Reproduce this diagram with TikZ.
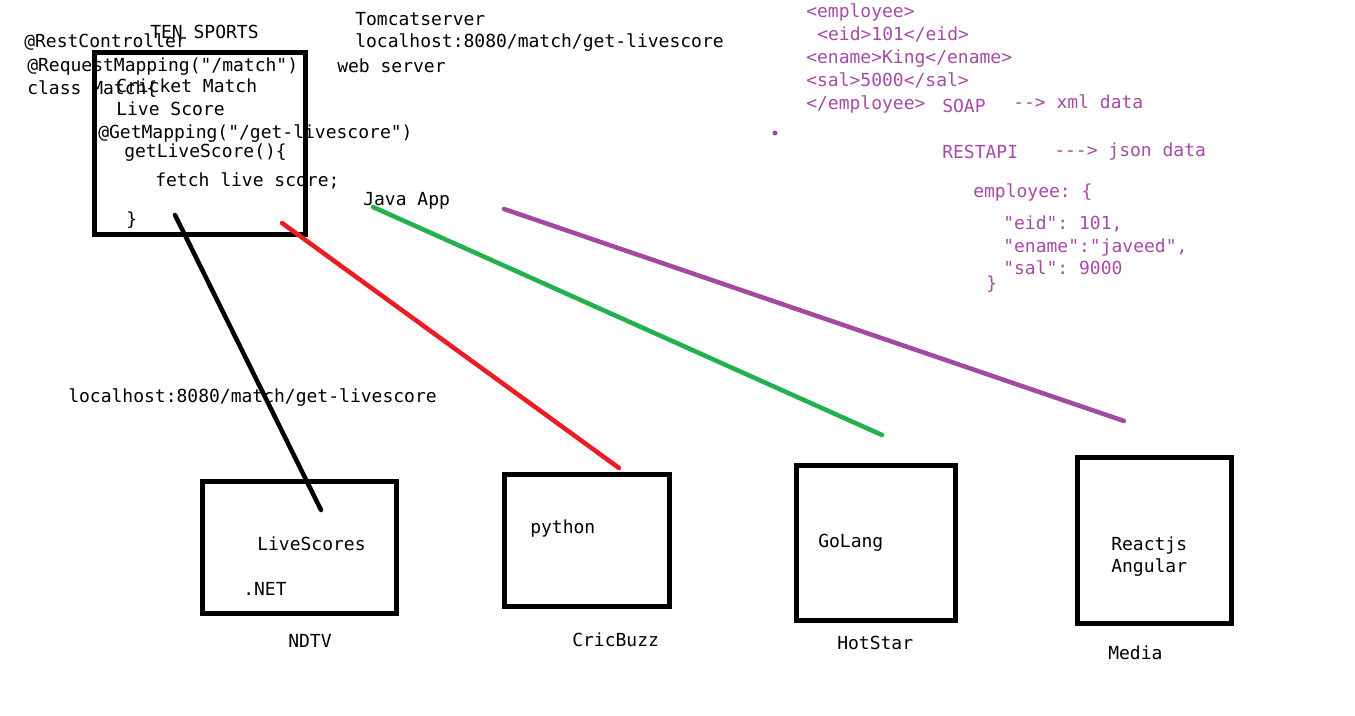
\documentclass[tikz,border=0pt]{standalone}
\usepackage{fontspec}
\setmonofont{DejaVu Sans Mono}
\definecolor{pp}{HTML}{A349A4}
\definecolor{ptext}{HTML}{A64CA6}
\definecolor{rd}{HTML}{ED1C24}
\definecolor{gr}{HTML}{22B14C}
\begin{document}
\begin{tikzpicture}[x=0.75pt,y=-0.75pt,
  txt/.style={anchor=base west,inner sep=0pt,font=\ttfamily\fontsize{13.5}{16}\selectfont},
  ptxt/.style={txt,text=ptext},
  box/.style={draw,line width=3.75pt,inner sep=0pt,outer sep=0pt,anchor=north west},
  wire/.style={line width=3.4pt,line cap=round}]
\useasboundingbox[fill=white] (0,0) rectangle (1355,716);
% boxes (top-left of the border's centre line, and its size)
\node[box,minimum width=211*0.75pt,minimum height=182*0.75pt] (ten) at (94.5,52.5) {};
\node[box,minimum width=194*0.75pt,minimum height=132*0.75pt] (ndtv) at (202.5,481.5) {};
\node[box,minimum width=165*0.75pt,minimum height=132*0.75pt] (cric) at (504,474) {};
\node[box,minimum width=159*0.75pt,minimum height=155*0.75pt] (hot) at (796,465) {};
\node[box,minimum width=154*0.75pt,minimum height=166*0.75pt] (media) at (1077,457.5) {};
% left texts
\node[txt] (ts) at (150,39) {TEN SPORTS};
\node[txt] (rc) at (24,48) {@RestController};
\node[txt] (rm) at (27,72) {@RequestMapping("/match")};
\node[txt] (cm) at (27,95) {class Match\{};
\node[txt] (ck) at (116,93) {Cricket Match};
\node[txt] (ls) at (116,116) {Live Score};
\node[txt] (gm) at (98,139) {@GetMapping("/get-livescore")};
\node[txt] (gl) at (124,158) {getLiveScore()\{};
\node[txt] (fl) at (155,187) {fetch live score;};
\node[txt] (cb) at (126,226) {\}};
\node[txt] (tc) at (355,26) {Tomcatserver};
\node[txt] (lh) at (355,48) {localhost:8080/match/get-livescore};
\node[txt] (ws) at (337,73) {web server};
\node[txt] (ja) at (363,206) {Java App};
\node[txt] (lh2) at (68,402) {localhost:8080/match/get-livescore};
% purple texts
\node[ptxt] (e1) at (806,18) {<employee>};
\node[ptxt] (e2) at (817,41) {<eid>101</eid>};
\node[ptxt] (e3) at (806,64) {<ename>King</ename>};
\node[ptxt] (e4) at (806,87) {<sal>5000</sal>};
\node[ptxt] (e5) at (806,110) {</employee>};
\node[ptxt] (soap) at (942,113) {SOAP};
\node[ptxt] (xml) at (1013,109) {-{}-> xml data};
\node[ptxt] (rest) at (942,159) {RESTAPI};
\node[ptxt] (json) at (1054,157) {-{}-{}-> json data};
\node[ptxt] (j1) at (973,198) {employee: \{};
\node[ptxt] (j2) at (1003,230) {"eid": 101,};
\node[ptxt] (j3) at (1003,253) {"ename":"javeed",};
\node[ptxt] (j4) at (1003,275) {"sal": 9000};
\node[ptxt] (j5) at (986,290) {\}};
\fill[pp] (775,133) circle (2.5);
% box texts
\node[txt] (lsc) at (257,550) {LiveScores};
\node[txt] (net) at (243,595) {.NET};
\node[txt] (nd) at (288,647) {NDTV};
\node[txt] (py) at (530,533) {python};
\node[txt] (cz) at (572,646) {CricBuzz};
\node[txt] (go) at (818,547) {GoLang};
\node[txt] (hs) at (837,649) {HotStar};
\node[txt] (re) at (1111,550) {Reactjs};
\node[txt] (an) at (1111,572) {Angular};
\node[txt] (md) at (1108,659) {Media};
% connector ends
\coordinate (a1) at (175,215);
\coordinate (a2) at (321,510);
\coordinate (b1) at (282,223);
\coordinate (b2) at (619,468);
\coordinate (c1) at (373,207);
\coordinate (c2) at (882,435);
\coordinate (d1) at (504,209);
\coordinate (d2) at (1124,421);
\draw[wire] (a1) -- (a2);
\draw[wire,rd] (b1) -- (b2);
\draw[wire,gr] (c1) -- (c2);
\draw[wire,pp] (d1) -- (d2);
\end{tikzpicture}
\end{document}
